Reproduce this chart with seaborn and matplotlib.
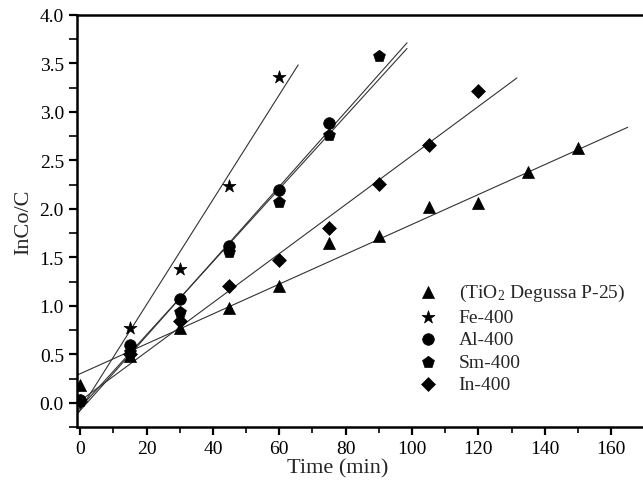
import numpy as np
import pandas as pd
import matplotlib
matplotlib.use("Agg")
import matplotlib.pyplot as plt
import seaborn as sns
from matplotlib.ticker import MultipleLocator

# 数据
samples = ["(TiO$_\\mathregular{2}$ Degussa P-25)", "Fe-400", "Al-400", "Sm-400", "In-400"]
time_tio2 = [0, 15, 30, 45, 60, 75, 90, 105, 120, 135, 150]
val_tio2 = [0.18, 0.48, 0.77, 0.98, 1.20, 1.65, 1.72, 2.02, 2.06, 2.38, 2.63]
time_fe = [15, 30, 45, 60]
val_fe = [0.77, 1.38, 2.24, 3.36]
time_al = [0, 15, 30, 45, 60, 75]
val_al = [0.03, 0.60, 1.07, 1.62, 2.19, 2.89]
time_sm = [0, 15, 30, 45, 60, 75, 90]
val_sm = [0.02, 0.52, 0.94, 1.56, 2.07, 2.76, 3.58]
time_in = [0, 15, 30, 45, 60, 75, 90, 105, 120]
val_in = [0.02, 0.50, 0.84, 1.20, 1.47, 1.80, 2.26, 2.66, 3.22]

# 拟合直线参数: 斜率, 截距, 终点时间
fit_slope = [0.0154, 0.0541, 0.0385, 0.0376, 0.0253]
fit_icpt = [0.30, -0.07, -0.08, -0.05, 0.02]
fit_end = [165, 65.7, 98.5, 98.5, 131.6]

marker_map = {samples[0]: "^", samples[1]: "*", samples[2]: "o", samples[3]: "p", samples[4]: "D"}
size_map = {samples[0]: 75, samples[1]: 95, samples[2]: 70, samples[3]: 80, samples[4]: 50}

times = [time_tio2, time_fe, time_al, time_sm, time_in]
vals = [val_tio2, val_fe, val_al, val_sm, val_in]
df = pd.concat([pd.DataFrame({"t": t, "v": v, "sample": s}) for t, v, s in zip(times, vals, samples)])

sns.set_theme(style="ticks")
plt.rcParams["font.family"] = ["Liberation Serif", "DejaVu Serif"]
plt.rcParams["mathtext.fontset"] = "stix"

fig = plt.figure(figsize=(6.43, 4.81), dpi=100)
ax = fig.add_axes([0.12, 0.11, 0.88, 0.857])

# 拟合线
for s, k, b, xe in zip(samples, fit_slope, fit_icpt, fit_end):
    xs = np.array([-1.0, xe])
    sns.lineplot(x=xs, y=k * xs + b, ax=ax, color="#333333", lw=0.8, legend=False)

for s in samples:
    sub = df[df["sample"] == s]
    sns.scatterplot(data=sub, x="t", y="v", marker=marker_map[s], s=size_map[s],
                    color="black", edgecolor="black", linewidth=0.5, ax=ax, label=s, zorder=3)

ax.set_xlim(-0.9, 169.6)
ax.set_ylim(-0.25, 4.0)
ax.xaxis.set_major_locator(MultipleLocator(20))
ax.xaxis.set_minor_locator(MultipleLocator(10))
ax.yaxis.set_major_locator(MultipleLocator(0.5))
ax.yaxis.set_minor_locator(MultipleLocator(0.25))
ax.yaxis.set_major_formatter(matplotlib.ticker.FormatStrFormatter("%.1f"))
ax.tick_params(which="major", direction="out", length=6, width=1.6, labelsize=14, colors="black")
ax.tick_params(which="minor", direction="out", length=4, width=1.4)
ax.tick_params(axis="y", which="minor", length=6)
for sp in ["left", "bottom", "top"]:
    ax.spines[sp].set_linewidth(1.8)
    ax.spines[sp].set_color("black")
ax.spines["right"].set_visible(False)

ax.set_xlabel("Time (min)", fontsize=16)
ax.set_ylabel("InCo/C", fontsize=16)
ax.xaxis.set_label_coords(0.46, -0.075)
ax.yaxis.set_label_coords(-0.077, 0.5)

leg = ax.legend(loc="upper left", bbox_to_anchor=(0.585, 0.375), frameon=False, fontsize=14,
                handlelength=1.0, handletextpad=1.1, labelspacing=0.25, borderpad=0)

fig.savefig("out.png", dpi=100)
